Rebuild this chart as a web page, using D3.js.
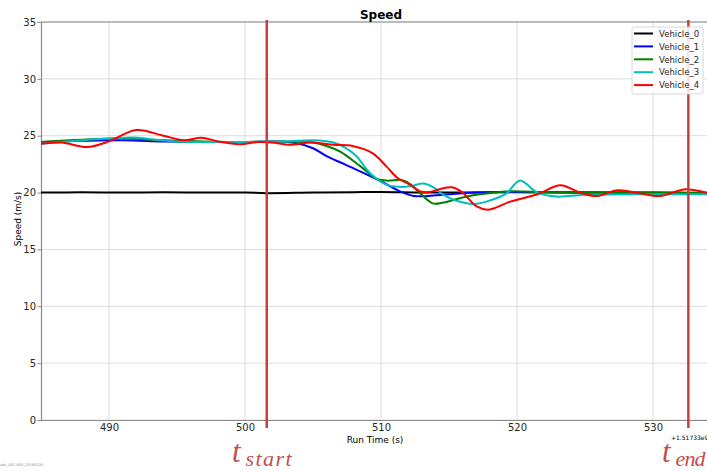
<!DOCTYPE html>
<html><head><meta charset="utf-8">
<script src="https://cdn.jsdelivr.net/npm/d3@7"></script>
<style>body{margin:0;background:#fff;overflow:hidden}svg{display:block}</style>
</head><body>
<svg id="c" width="707" height="471"></svg>
<script>
const title = "Speed";
const xLabel = "Run Time (s)";
const yLabel = "Speed (m/s)";
const offsetText = "+1.51733e9";
const xTicks = [490, 500, 510, 520, 530];
const yTicks = [0, 5, 10, 15, 20, 25, 30, 35];
const tStart = 501.6;
const tEnd = 532.6;
const seriesNames = ["Vehicle_0", "Vehicle_1", "Vehicle_2", "Vehicle_3", "Vehicle_4"];
const seriesColors = ["#000000", "#0000ff", "#008000", "#00bfbf", "#ff0000"];

const vehicle0 = [[485,20.0],[488,20.02],[491,20.0],[494,20.02],[497,20.0],[500,20.0],[501.6,19.95],[505,20.0],[508,20.03],[510,20.05],[513,20.0],[516,20.0],[520,20.03],[525,20.0],[530,20.0],[535,19.95]];
const vehicle1 = [[485,24.45],[488,24.55],[491,24.6],[494,24.5],[497,24.45],[500,24.45],[502,24.5],[503.5,24.4],[505,23.9],[506,23.2],[507.3,22.5],[508.5,21.85],[509.9,21.05],[511.4,20.1],[512.4,19.7],[513.5,19.7],[515,19.85],[517,20.0],[520,20.05],[525,20.0],[530,19.95],[535,19.9]];
const vehicle2 = [[485,24.45],[488,24.65],[491,24.75],[494,24.6],[497,24.5],[500,24.45],[503,24.5],[505,24.4],[506,24.1],[507,23.6],[508.5,22.3],[509.7,21.2],[510.5,21.05],[511.5,21.1],[512.2,20.7],[513,19.8],[513.8,19.05],[514.5,19.1],[515.8,19.5],[517,19.8],[519.2,20.1],[522,20.05],[525,20.0],[530,20.0],[535,19.95]];
const vehicle3 = [[485,24.3],[488,24.6],[490,24.75],[491.8,24.85],[493,24.7],[495,24.5],[500,24.45],[503,24.5],[505,24.6],[506.5,24.4],[507.3,24.0],[508.2,23.2],[509.2,21.7],[510.4,20.7],[511.5,20.5],[512.3,20.6],[513.1,20.8],[513.8,20.5],[514.6,19.8],[515.5,19.3],[516.8,19.0],[518,19.3],[519.2,19.9],[520.2,21.05],[521.5,20.0],[522.9,19.65],[525,19.8],[530,19.85],[535,19.85]];
const vehicle4 = [[485,24.3],[486.5,24.4],[488.4,24.0],[490,24.5],[492,25.5],[494,25.0],[495.5,24.6],[496.8,24.83],[498,24.5],[499.6,24.25],[501,24.45],[502,24.4],[503.3,24.2],[504.8,24.4],[506.5,24.2],[507.9,24.1],[509.4,23.45],[510.4,22.3],[511.2,21.3],[512.1,20.7],[512.9,20.1],[513.6,20.05],[514.3,20.3],[515.2,20.47],[516,20.0],[517,18.8],[517.9,18.5],[519.5,19.2],[521.5,19.85],[523.2,20.65],[524.6,20.0],[525.9,19.7],[527.4,20.2],[529,19.95],[530.5,19.7],[532.4,20.3],[534,20.0],[535,20.0]];
const seriesData = [vehicle0, vehicle1, vehicle2, vehicle3, vehicle4];

const svg = d3.select("#c");
const L = 41, T = 22, B = 420, R = 721;
const x = d3.scaleLinear().domain([485, 535]).range([L, R]);
const y = d3.scaleLinear().domain([0, 35]).range([B, T]);
const font = "'DejaVu Sans', sans-serif";

// grid
svg.append("g").selectAll("line").data(yTicks).join("line")
  .attr("x1", L).attr("x2", R).attr("y1", d => y(d)).attr("y2", d => y(d))
  .attr("stroke", "#dcdcdc").attr("stroke-width", 1);
svg.append("g").selectAll("line").data(xTicks).join("line")
  .attr("x1", d => x(d)).attr("x2", d => x(d)).attr("y1", T).attr("y2", B)
  .attr("stroke", "#dcdcdc").attr("stroke-width", 1);

// axes
const ya = svg.append("g").attr("transform", `translate(${L},0)`)
  .call(d3.axisLeft(y).tickValues(yTicks).tickSize(3.5).tickPadding(1.5));
const xa = svg.append("g").attr("transform", `translate(0,${B})`)
  .call(d3.axisBottom(x).tickValues(xTicks).tickSize(0).tickPadding(4));
[ya, xa].forEach(a => {
  a.select(".domain").attr("stroke", "#8a8a8a").attr("stroke-width", 1.2);
  a.selectAll(".tick line").attr("stroke", "#8a8a8a");
  a.selectAll(".tick text").attr("fill", "#262626").style("font-family", font).style("font-size", "10px");
});
svg.append("line").attr("x1", L).attr("x2", R).attr("y1", T).attr("y2", T)
  .attr("stroke", "#8a8a8a").attr("stroke-width", 1.2);

// lines
const line = d3.line().x(d => x(d[0])).y(d => y(d[1])).curve(d3.curveCatmullRom.alpha(0.5));
svg.append("g").selectAll("path").data(seriesData).join("path")
  .attr("d", line).attr("fill", "none")
  .attr("stroke", (d, i) => seriesColors[i]).attr("stroke-width", 2);

// markers
const markColor = "#c4403c";
[tStart, tEnd].forEach(t => {
  svg.append("line").attr("x1", x(t)).attr("x2", x(t)).attr("y1", 20).attr("y2", 428)
    .attr("stroke", markColor).attr("stroke-width", 2.5);
});

// title and labels
svg.append("text").attr("x", 381).attr("y", 19).attr("text-anchor", "middle")
  .style("font-family", font).style("font-size", "12px").style("font-weight", "bold").attr("fill", "#000").text(title);
svg.append("text").attr("x", 375).attr("y", 442.5).attr("text-anchor", "middle")
  .style("font-family", font).style("font-size", "9px").attr("fill", "#000").text(xLabel);
svg.append("text").attr("transform", "translate(21,219) rotate(-90)").attr("text-anchor", "middle")
  .style("font-family", font).style("font-size", "9px").attr("fill", "#000").text(yLabel);
svg.append("text").attr("x", 671).attr("y", 439.5)
  .style("font-family", font).style("font-size", "6px").attr("fill", "#000").text(offsetText);
svg.append("text").attr("x", 0).attr("y", 466)
  .style("font-family", font).style("font-size", "3.5px").attr("fill", "#888").text("veh_002_003_20180130");

// t labels
const tLabels = [{t: tStart, sub: "start", x0: 232, w: 46}, {t: tEnd, sub: "end", x0: 662, w: 30}];
tLabels.forEach(o => {
  const g = svg.append("text").attr("y", 462).attr("fill", "#c0504d")
    .style("font-family", "'Liberation Serif', 'DejaVu Serif', serif").style("font-style", "italic");
  g.append("tspan").attr("x", o.x0).style("font-size", "31px").text("t");
  g.append("tspan").attr("x", o.x0 + 13.5).attr("dy", 4).style("font-size", "22px")
    .attr("textLength", o.w).attr("lengthAdjust", "spacing").text(o.sub);
});

// legend
const lg = svg.append("g");
lg.append("rect").attr("x", 632).attr("y", 27).attr("width", 71).attr("height", 67)
  .attr("fill", "#fff").attr("fill-opacity", 0.85).attr("stroke", "#d8d8d8").attr("rx", 2);
seriesNames.forEach((n, i) => {
  const yy = 33.5 + i * 12.9;
  lg.append("line").attr("x1", 634).attr("x2", 653).attr("y1", yy).attr("y2", yy)
    .attr("stroke", seriesColors[i]).attr("stroke-width", 2);
  lg.append("text").attr("x", 659).attr("y", yy + 3.2)
    .style("font-family", font).style("font-size", "8.5px").attr("fill", "#262626").text(n);
});
</script>
</body></html>
